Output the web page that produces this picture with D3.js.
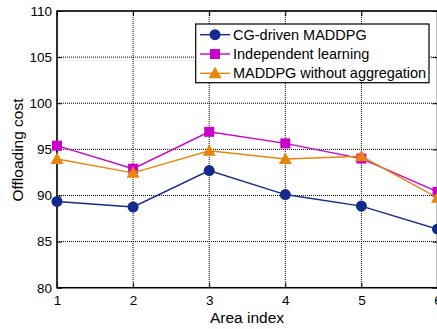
<!DOCTYPE html>
<html><head><meta charset="utf-8">
<script src="https://cdn.jsdelivr.net/npm/d3@7"></script>
<style>body{margin:0;background:#fff;overflow:hidden}svg{display:block}text{font-family:"Liberation Sans",Arial,sans-serif}</style>
</head><body><svg id="c" width="437" height="329"></svg>
<script>
const areas = [1, 2, 3, 4, 5, 6];
const yTicks = [80, 85, 90, 95, 100, 105, 110];
const seriesNames = ["CG-driven MADDPG", "Independent learning", "MADDPG without aggregation"];
const cgDriven = [89.35, 88.75, 92.7, 90.1, 88.85, 86.35];
const independent = [95.4, 92.9, 96.9, 95.65, 94.0, 90.4];
const withoutAgg = [93.95, 92.45, 94.85, 93.95, 94.25, 89.75];
const colors = ["#142a8c", "#cc00cc", "#e8850a"];
const shapes = ["circle", "square", "triangle"];

const svg = d3.select("#c");
const L = 57, R = 437.5, T = 11, B = 287.7;
const x = d3.scaleLinear().domain([1, 6]).range([L, R]);
const y = d3.scaleLinear().domain([80, 110]).range([B, T]);

// grid
const g = svg.append("g");
g.selectAll(".vg").data(areas).join("line")
  .attr("x1", d => x(d)).attr("x2", d => x(d)).attr("y1", T).attr("y2", B)
  .attr("stroke", "#000").attr("stroke-width", 1).attr("stroke-dasharray", "1,1");
g.selectAll(".hg").data(yTicks).join("line")
  .attr("x1", L).attr("x2", R).attr("y1", d => y(d)).attr("y2", d => y(d))
  .attr("stroke", "#000").attr("stroke-width", 1).attr("stroke-dasharray", "1,1");

// axes
const xAxis = d3.axisBottom(x).tickValues(areas).tickSize(-5).tickPadding(8).tickFormat(d3.format("d"));
const yAxis = d3.axisLeft(y).tickValues(yTicks).tickSize(-5).tickPadding(5);
const ax = svg.append("g").attr("transform", `translate(0,${B})`).call(xAxis);
const ay = svg.append("g").attr("transform", `translate(${L},0)`).call(yAxis);
[ax, ay].forEach(a => {
  a.select(".domain").remove();
  a.selectAll("text").attr("font-size", 13.5).attr("fill", "#000").style("font-family", '"Liberation Sans",Arial,sans-serif');
  a.selectAll(".tick line").attr("stroke", "#000");
});
// top/right ticks
svg.append("g").attr("transform", `translate(0,${T})`).call(d3.axisTop(x).tickValues(areas).tickSize(-5).tickFormat(""))
  .call(a => a.select(".domain").remove());
svg.append("g").attr("transform", `translate(${R},0)`).call(d3.axisRight(y).tickValues(yTicks).tickSize(-5).tickFormat(""))
  .call(a => a.select(".domain").remove());
svg.append("rect").attr("x", L).attr("y", T).attr("width", R - L).attr("height", B - T)
  .attr("fill", "none").attr("stroke", "#000").attr("stroke-width", 1.5);

// series
const data = [cgDriven, independent, withoutAgg];
const line = d3.line().x((d, i) => x(areas[i])).y(d => y(d));
function drawMarker(sel, shape, color) {
  if (shape === "circle") sel.append("circle").attr("r", 5.5).attr("fill", color);
  else if (shape === "square") sel.append("rect").attr("x", -5).attr("y", -5).attr("width", 10).attr("height", 10).attr("fill", color);
  else sel.append("path").attr("d", "M0,-6.5L6.5,5L-6.5,5Z").attr("fill", color);
}
data.forEach((vals, si) => {
  svg.append("path").datum(vals).attr("d", line).attr("fill", "none").attr("stroke", colors[si]).attr("stroke-width", 1.4);
  vals.forEach((v, i) => {
    const m = svg.append("g").attr("transform", `translate(${x(areas[i])},${y(v)})`);
    drawMarker(m, shapes[si], colors[si]);
  });
});

// legend
const lg = svg.append("g");
lg.append("rect").attr("x", 195.7).attr("y", 24).attr("width", 233.3).attr("height", 58.7)
  .attr("fill", "#fff").attr("stroke", "#000").attr("stroke-width", 1.2);
seriesNames.forEach((n, i) => {
  const yy = 34.7 + i * 19.3;
  lg.append("line").attr("x1", 200).attr("x2", 230).attr("y1", yy).attr("y2", yy).attr("stroke", colors[i]).attr("stroke-width", 1.4);
  const m = lg.append("g").attr("transform", `translate(215,${yy})`);
  drawMarker(m, shapes[i], colors[i]);
  lg.append("text").attr("x", 233).attr("y", yy + 5).attr("font-size", 14.5).attr("fill", "#000")
    .attr("textLength", i === 2 ? 193 : null).text(n);
});

// labels
svg.append("text").attr("x", 247).attr("y", 323).attr("text-anchor", "middle").attr("font-size", 15.5).text("Area index");
svg.append("text").attr("transform", "translate(23,150) rotate(-90)").attr("text-anchor", "middle").attr("font-size", 15.5).text("Offloading cost");
</script></body></html>
